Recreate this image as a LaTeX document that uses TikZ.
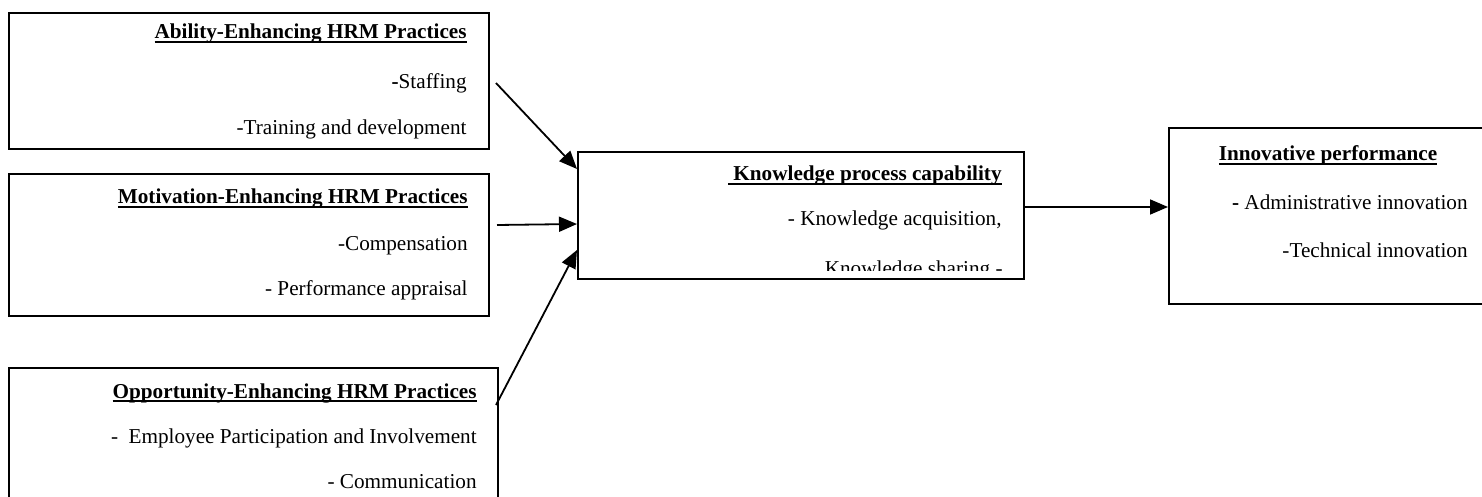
\documentclass[tikz,border=0pt]{standalone}
\usepackage{fontspec}
\setmainfont{Liberation Serif}
\usetikzlibrary{arrows.meta}
\newcommand\myul[1]{\setbox0\hbox{#1}\rlap{\rule[-1.9pt]{\wd0}{0.8pt}}\box0}
\tikzset{
  box/.style={draw, line width=1pt, rectangle, inner sep=0pt, anchor=north west},
  txt/.style={anchor=base east, inner sep=0pt, font=\fontsize{10.6pt}{12pt}\selectfont},
  ttl/.style={txt, font=\fontsize{10.6pt}{12pt}\selectfont\bfseries},
  arr/.style={line width=0.9pt, -{Triangle[length=9pt,width=7.5pt]}}
}
\begin{document}
\begin{tikzpicture}[x=0.5pt,y=-0.5pt]
\useasboundingbox (0,0) rectangle (1482,497);
% boxes
\node[box, minimum width=240pt, minimum height=68pt] (b1) at (8,12) {};
\node[box, minimum width=240pt, minimum height=71pt] (b2) at (8,173) {};
\node[box, minimum width=244.5pt, minimum height=76.5pt] (b3) at (8,367) {};
\node[box, minimum width=223pt, minimum height=63.5pt] (kn) at (577,151) {};
\node[box, minimum width=166pt, minimum height=88pt] (inn) at (1168,127) {};
% box 1 text
\node[ttl] (t1) at (467,39) {\myul{Ability-Enhancing HRM Practices}};
\node[txt] (t1a) at (467,89) {\textbf{-}Staffing};
\node[txt] (t1b) at (467,135) {-Training and development};
% box 2 text
\node[ttl] (t2) at (468,204) {\myul{Motivation-Enhancing HRM Practices}};
\node[txt] (t2a) at (468,250) {-Compensation};
\node[txt] (t2b) at (468,295) {- Performance appraisal};
% box 3 text
\node[ttl] (t3) at (477,398) {\myul{Opportunity-Enhancing HRM Practices}};
\node[txt] (t3a) at (477,443) {-\ \ Employee Participation and Involvement};
\node[txt] (t3b) at (477,488) {- Communication};
% knowledge text
\node[ttl] (tk) at (1002,181) {\myul{\ Knowledge process capability}};
\node[txt] (tka) at (1002,226) {- Knowledge acquisition,};
\begin{scope}
\clip (577,151) rectangle (1023,270);
\node[txt] (tkb) at (1003,275) {Knowledge sharing -};
\end{scope}
% innovative text
\node[ttl, anchor=base] (ti) at (1328,161) {\myul{Innovative performance}};
\node[txt] (tia) at (1468,210) {\textbf{-} Administrative innovation};
\node[txt] (tib) at (1468,257) {-Technical innovation};
% arrows
\coordinate (s1) at (496,83);
\coordinate (s2) at (497,225);
\coordinate (s3) at (496,405);
\draw[arr] (s1) -- (kn.west |- 0,169);
\draw[arr] (s2) -- (kn.west |- 0,224);
\draw[arr] (s3) -- (kn.west |- 0,250);
\draw[arr] (kn.east |- 0,207) -- (inn.west |- 0,207);
\end{tikzpicture}
\end{document}
